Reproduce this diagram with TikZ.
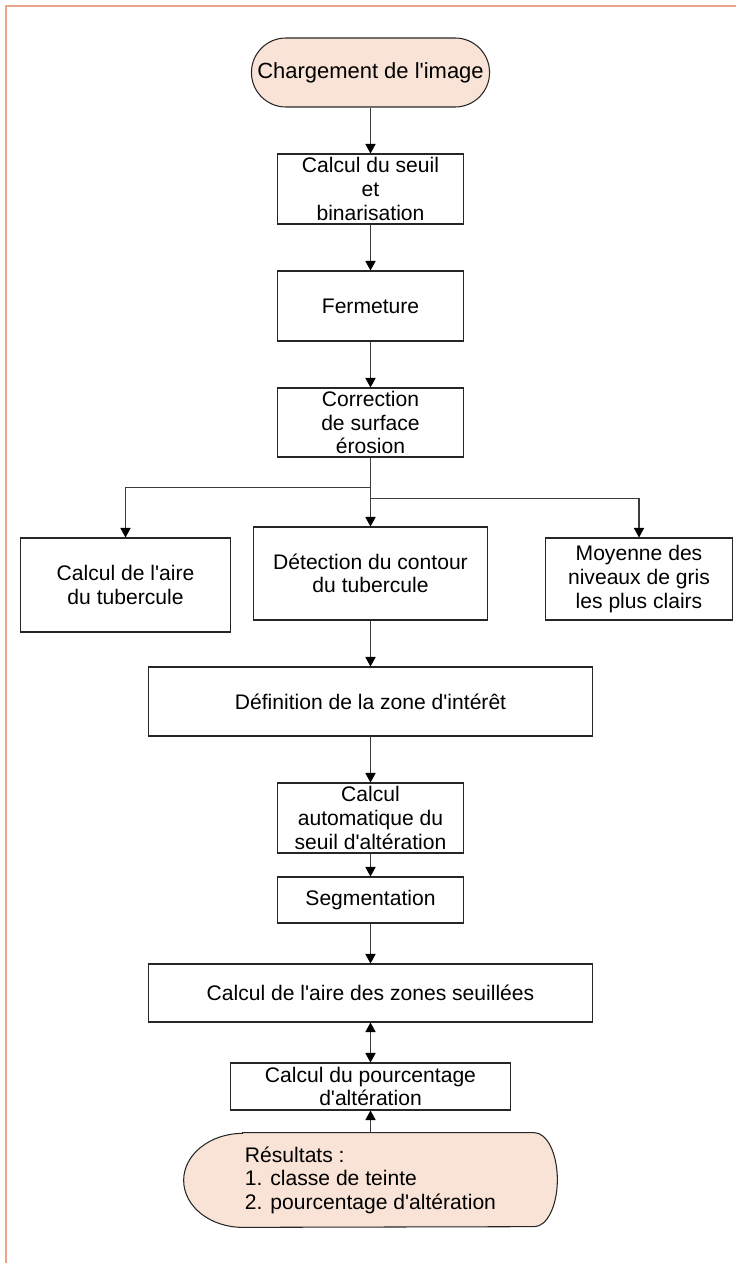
\documentclass[tikz,border=0pt]{standalone}
\usepackage{fontspec}
\setmainfont{Liberation Sans}
\usepackage{tikz}
\usetikzlibrary{shapes, arrows.meta, positioning, backgrounds}
\usepackage{xcolor}
\definecolor{peche}{HTML}{F9E3D6}
\definecolor{saumon}{HTML}{EAA48A}
\definecolor{trait}{HTML}{3C3C3C}
\newcommand{\apos}{\textquotesingle}
\tikzstyle{etape} = [
    rectangle,
    draw=black!85,
    line width=0.6pt,
    minimum width=3.72cm,
    minimum height=1.4cm,
    inner sep=1pt,
    align=center
]
\tikzstyle{terminal} = [
    rectangle,
    rounded corners=0.69cm,
    draw=black!85,
    fill=peche,
    line width=0.6pt,
    minimum width=4.66cm,
    minimum height=1.38cm,
    font=\fontsize{12.5}{15}\selectfont
]
\tikzstyle{fleche} = [
    draw=trait,
    line width=0.6pt,
    -{Triangle[width=5.8pt,length=5.4pt,color=black]}
]
\tikzstyle{fleches} = [
    fleche,
    {Triangle[width=5.8pt,length=5.4pt,color=black]}-{Triangle[width=5.8pt,length=5.4pt,color=black]}
]

\begin{document}
\begin{tikzpicture}[node distance=2.33cm, auto, font=\fontsize{12}{13.4}\selectfont]
    \useasboundingbox (0,0) rectangle (14.72,-25.26);
    \draw[draw=saumon, line width=0.9pt] (0.12,-25.26) -- (0.12,-0.12) -- (14.72,-0.12);

    \node[terminal] (chargement) at (7.41,-1.45) {Chargement de l\apos image};
    \node[etape] (seuil) [below of=chargement] {Calcul du seuil\\et\\binarisation};
    \node[etape] (fermeture) [below of=seuil, node distance=2.34cm] {Fermeture};
    \node[etape, minimum height=1.38cm] (correction) [below of=fermeture] {Correction\\de surface\\érosion};
    \node[etape, minimum width=4.68cm, minimum height=1.86cm] (contour) [below of=correction, node distance=3.02cm] {Détection du contour\\du tubercule};
    \node[etape, minimum width=4.2cm, minimum height=1.88cm, yshift=-0.23cm] (aire) [left of=contour, node distance=4.9cm] {Calcul de l\apos aire\\du tubercule};
    \node[etape, minimum width=3.74cm, minimum height=1.64cm, yshift=-0.11cm] (moyenne) [right of=contour, node distance=5.37cm] {Moyenne des\\niveaux de gris\\les plus clairs};
    \node[etape, minimum width=8.88cm, minimum height=1.38cm] (zone) [below of=contour, node distance=2.56cm] {Définition de la zone d\apos intérêt};
    \node[etape] (automatique) [below of=zone] {Calcul\\automatique du\\seuil d\apos altération};
    \node[etape, minimum height=0.92cm] (segmentation) [below of=automatique, node distance=1.64cm] {Segmentation};
    \node[etape, minimum width=8.88cm, minimum height=1.16cm] (aires) [below of=segmentation, node distance=1.86cm] {Calcul de l\apos aire des zones seuillées};
    \node[etape, minimum width=5.6cm, minimum height=0.94cm] (pourcentage) [below of=aires, node distance=1.87cm] {Calcul du pourcentage\\d\apos altération};
    \node[align=left, minimum width=7.46cm, minimum height=1.88cm, inner sep=0pt] (resultats) [below of=pourcentage, node distance=1.87cm] {Résultats :\\1. classe de teinte\\2. pourcentage d\apos altération};

    % forme de sortie
    \begin{scope}[on background layer]
        \draw[draw=black!85, fill=peche, line width=0.6pt]
            ([xshift=1.18cm]resultats.north west) -- ([xshift=-0.46cm]resultats.north east)
            arc[start angle=90, end angle=-90, x radius=0.46cm, y radius=0.94cm]
            -- ([xshift=1.18cm]resultats.south west)
            arc[start angle=270, end angle=90, x radius=1.18cm, y radius=0.94cm]
            -- cycle;
    \end{scope}

    \draw[fleche] (chargement) -- (seuil);
    \draw[fleche] (seuil) -- (fermeture);
    \draw[fleche] (fermeture) -- (correction);
    \draw[fleche] (correction) -- (contour);
    \draw[fleche] (correction.south) -- ++(0,-0.6) -| (aire.north);
    \draw[fleche] (correction.south) -- ++(0,-0.82) -| (moyenne.north);
    \draw[fleche] (contour) -- (zone);
    \draw[fleche] (zone) -- (automatique);
    \draw[fleche] (automatique) -- (segmentation);
    \draw[fleche] (segmentation) -- (aires);
    \draw[fleches] (aires) -- (pourcentage);
    \draw[fleche] (resultats) -- (pourcentage);
\end{tikzpicture}
\end{document}
